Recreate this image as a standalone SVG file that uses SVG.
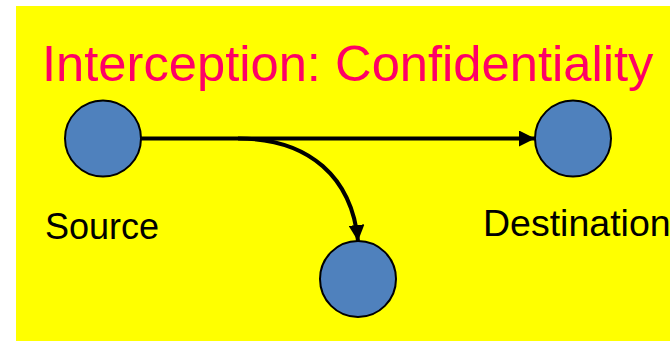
<svg xmlns="http://www.w3.org/2000/svg" width="670" height="341" viewBox="0 0 670 341">
<style>
.node{fill:#4F81BD;stroke:#000;stroke-width:2}
.lbl{font-family:"Liberation Sans",Arial,sans-serif;font-size:36px;fill:#000}
.title{font-family:"Liberation Sans",Arial,sans-serif;font-size:50.7px;fill:#FF0066}
.edge{fill:none;stroke:#000;stroke-width:4}
</style>
<defs>
<marker id="arr" markerUnits="userSpaceOnUse" viewBox="0 0 16 16" refX="16" refY="8" markerWidth="16" markerHeight="16" orient="auto">
<path d="M0,0 L16,8 L0,16 Z" fill="#000"/>
</marker>
</defs>
<rect x="16" y="6" width="654" height="335" fill="#FFFF00"/>
<text class="title" x="42" y="81">Interception: Confidentiality</text>
<g id="connectors">
<path class="edge" d="M141,138.5 L535,138.5" marker-end="url(#arr)"/>
<path class="edge" d="M238,138.5 C310,138.5 352,178 358,241" marker-end="url(#arr)"/>
</g>
<g id="source">
<circle class="node" cx="103" cy="138.5" r="38"/>
<text class="lbl" x="45" y="239">Source</text>
</g>
<g id="destination">
<circle class="node" cx="573" cy="138.5" r="38"/>
<text class="lbl" x="483" y="236" style="font-size:37.5px">Destination</text>
</g>
<g id="interceptor">
<circle class="node" cx="358" cy="279" r="38"/>
</g>
</svg>
